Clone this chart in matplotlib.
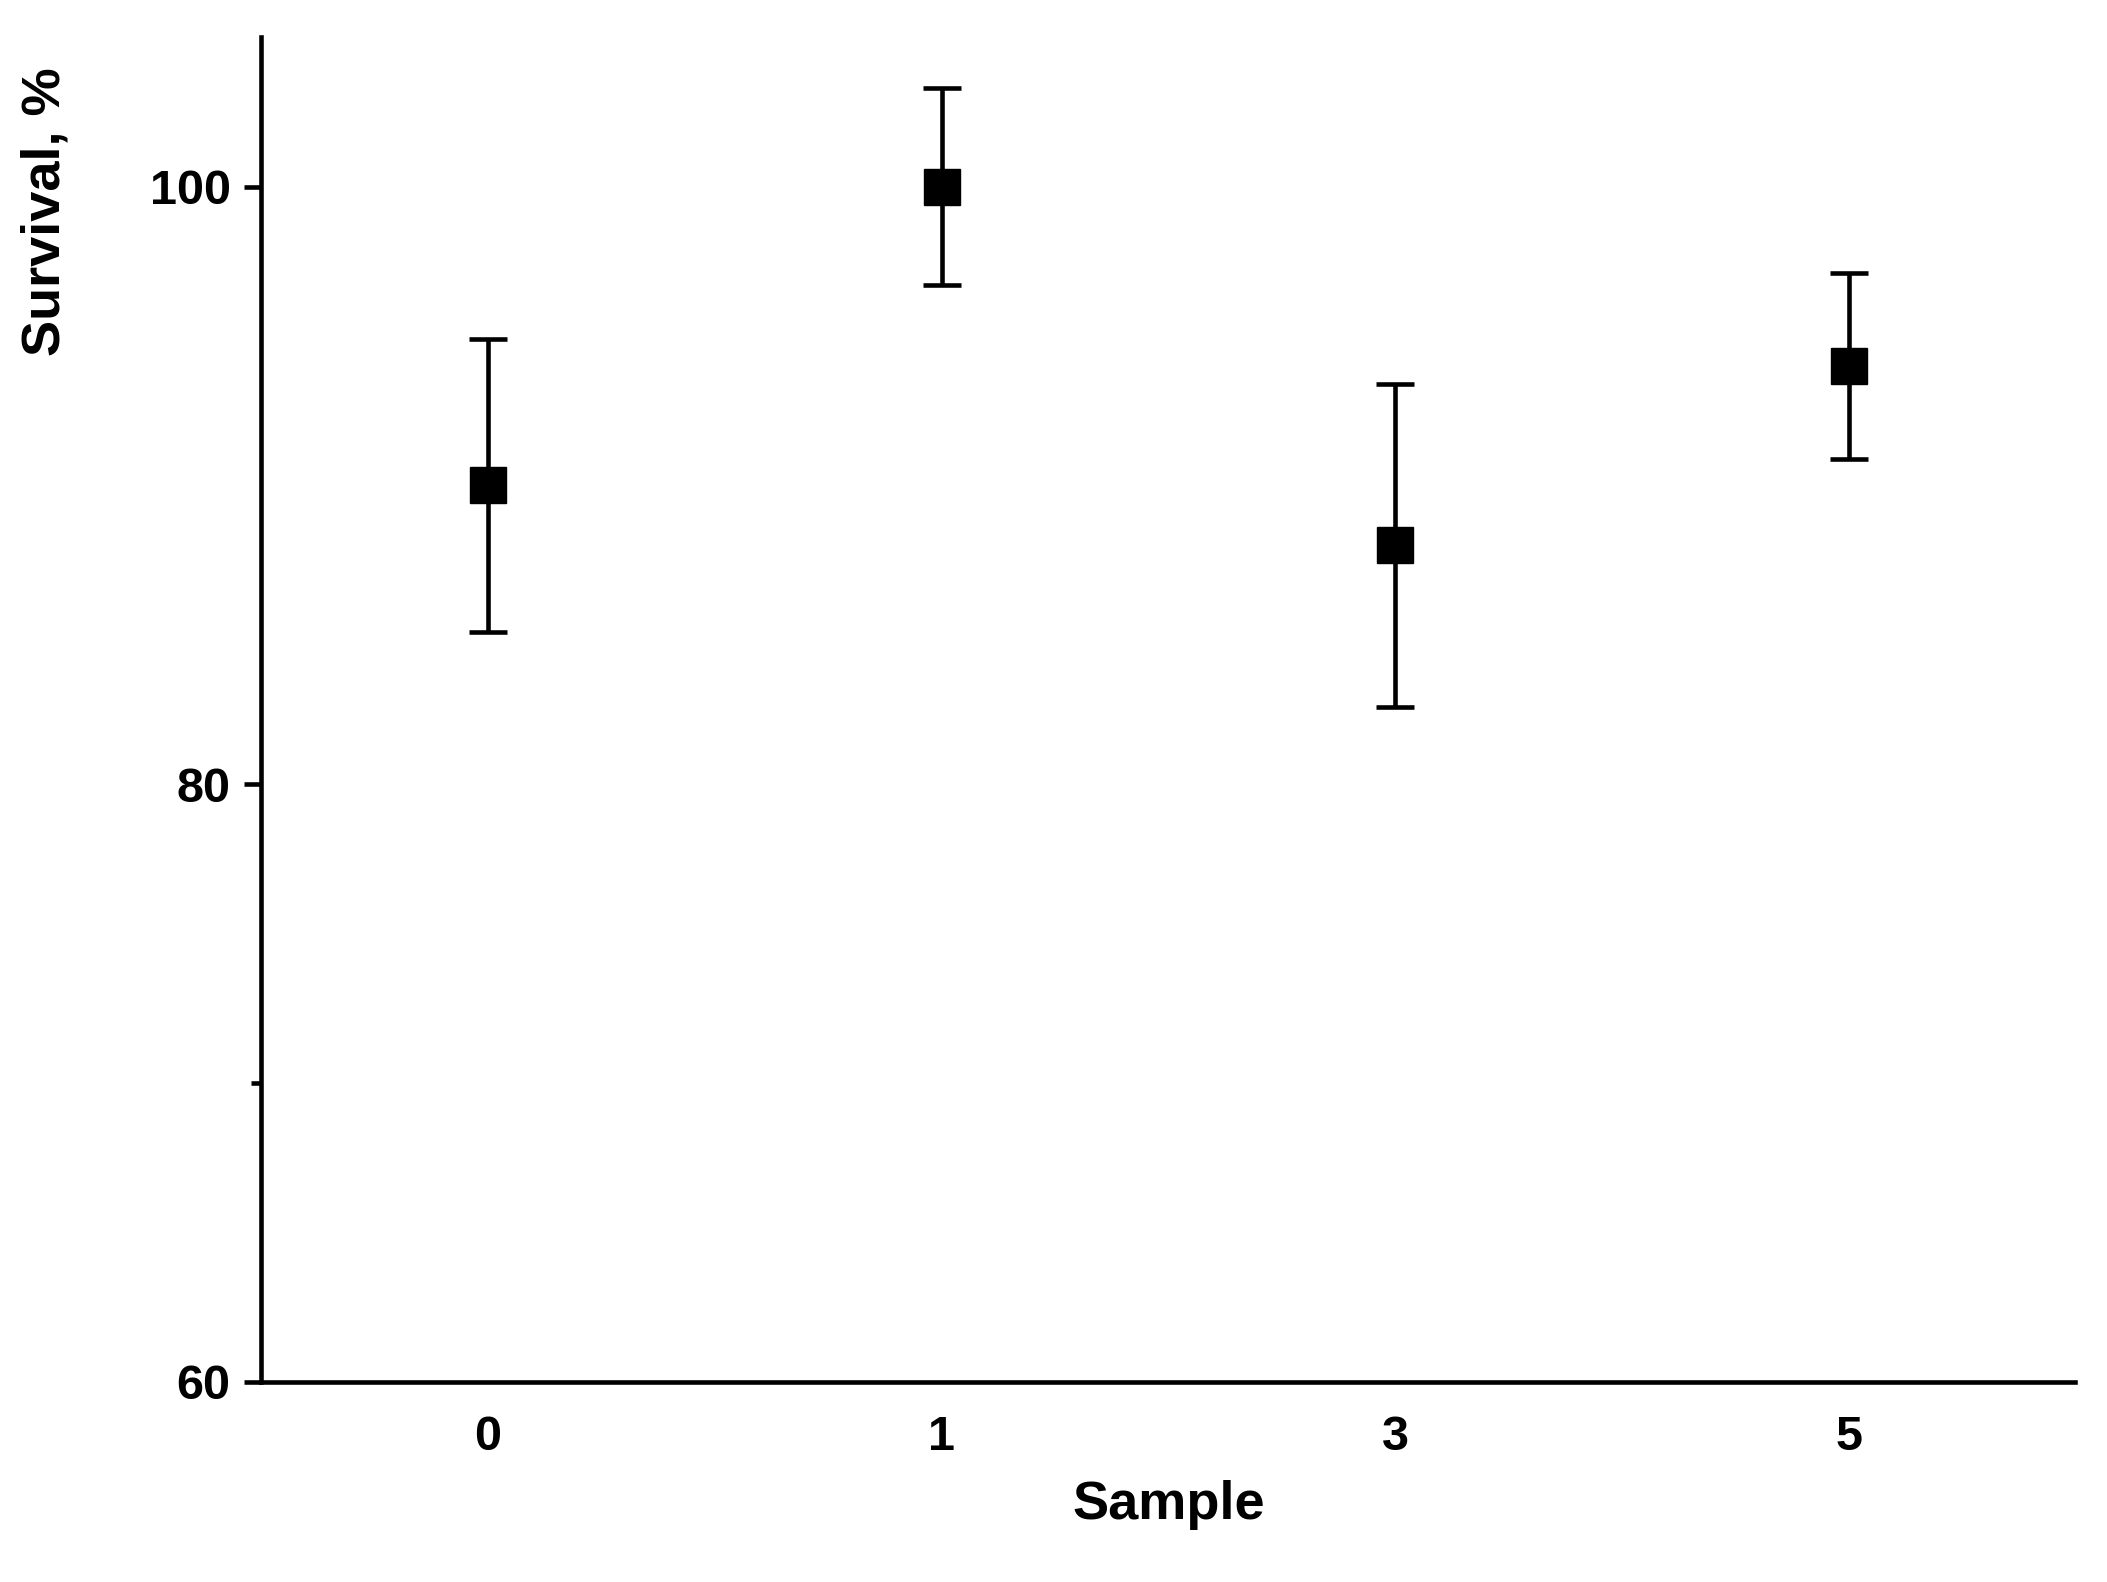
import matplotlib
matplotlib.use("Agg")
import matplotlib.pyplot as plt

samples = ["0", "1", "3", "5"]
survival = [90.0, 100.0, 88.0, 94.0]
errors = [4.9, 3.3, 5.4, 3.1]

plt.rcParams["font.family"] = ["Liberation Sans", "DejaVu Sans"]
plt.rcParams["font.weight"] = "bold"

fig = plt.figure(figsize=(21.07, 15.82), dpi=100)
ax = fig.add_axes([0.124, 0.1265, 0.861, 0.85])

pos = list(range(len(samples)))
ax.errorbar(pos, survival, yerr=errors, fmt="s", color="black", markersize=26,
            elinewidth=3.3, capsize=14, capthick=3.3)

ax.set_xlim(-0.5, 3.5)
ax.set_ylim(60, 105)
ax.set_xticks(pos)
ax.set_xticklabels(samples)
ax.set_yticks([60, 80, 100])
ax.set_yticks([70], minor=True)
ax.spines["top"].set_visible(False)
ax.spines["right"].set_visible(False)
for s in ("left", "bottom"):
    ax.spines[s].set_linewidth(3.3)
ax.tick_params(axis="both", which="major", labelsize=35, width=3.3, length=12, pad=10)
ax.tick_params(axis="y", which="minor", width=3.3, length=7)
ax.tick_params(axis="x", length=0, pad=24)
ax.set_xlabel("Sample", fontsize=39, fontweight="bold", labelpad=14)
ax.set_ylabel("Survival, %", fontsize=39, fontweight="bold")
ax.yaxis.set_label_coords(-0.105, 0.87)

fig.savefig("out.png", dpi=100)
